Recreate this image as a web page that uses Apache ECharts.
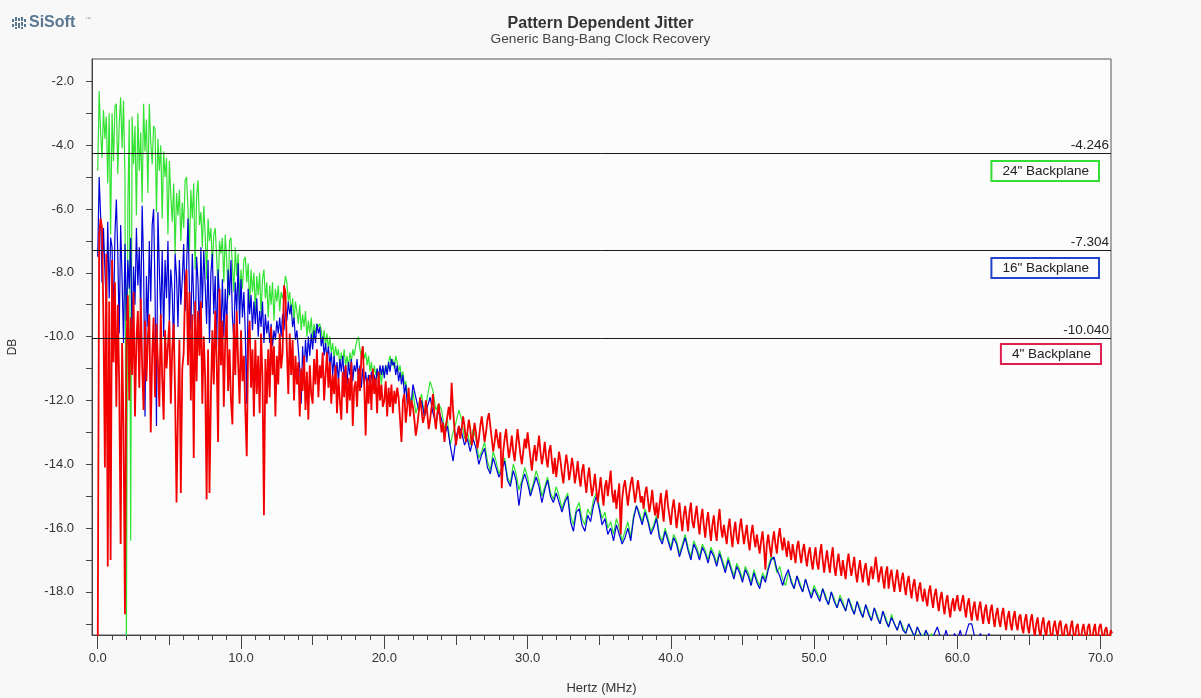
<!DOCTYPE html>
<html>
<head>
<meta charset="utf-8">
<title>Pattern Dependent Jitter</title>
<script src="https://cdn.jsdelivr.net/npm/echarts@6/dist/echarts.min.js"></script>
<style>
  html, body { margin: 0; padding: 0; background: #f8f8f8; }
  #chart { width: 1201px; height: 698px; }
</style>
</head>
<body>
<div id="chart"></div>
<script>
// ---- data ----
// early part: 0.0 .. 21.9 MHz every 0.1 MHz; late part starts at 22.0 MHz
const EARLY_STEP = 0.1;
const LATE_START = 22.0;
const GB_LATE_STEP = 0.2;   // green / blue late sampling
const RED_LATE_STEP = 0.1;  // red late sampling

const green24Early = [
  -4.8, -2.3, -3.6, -4.4, -2.9, -3.8, -3.1, -5.2, -3.0, -6.8,
  -3.0, -4.5, -2.8, -2.7, -4.9, -3.3, -2.5, -4.1, -2.6, -5.0,
  -19.8, -6.0, -3.2, -16.4, -3.1, -4.6, -3.4, -6.2, -3.0, -4.8,
  -3.6, -5.8, -2.7, -4.2, -3.2, -5.5, -2.7, -3.9, -4.6, -3.4,
  -3.5, -6.1, -3.8, -4.8, -4.0, -6.3, -4.2, -5.0, -4.4, -6.8,
  -4.5, -5.6, -6.4, -5.2, -7.4, -5.5, -6.2, -5.4, -7.0, -5.8,
  -6.6, -5.1, -5.0, -6.0, -7.3, -5.4, -6.3, -5.2, -7.9, -5.6,
  -5.1, -6.5, -6.1, -7.2, -5.9, -6.8, -8.2, -6.3, -7.0, -6.6,
  -7.8, -6.8, -6.6, -7.5, -8.6, -7.0, -7.4, -6.9, -8.3, -6.8,
  -7.6, -8.8, -7.0, -6.9, -7.8, -8.6, -7.2, -8.1, -7.4, -8.9,
  -7.9, -8.5, -7.6, -7.5, -8.3, -7.7, -9.1, -7.9, -8.6, -8.0,
  -9.2, -8.1, -8.7, -8.0, -9.3, -8.2, -7.9, -8.8, -8.3, -9.4,
  -8.4, -9.0, -8.3, -9.5, -8.5, -8.9, -8.4, -9.2, -8.6, -8.8,
  -8.5, -8.1, -8.3, -8.9, -8.6, -9.3, -8.8, -9.5, -8.9, -9.2,
  -9.6, -9.0, -9.8, -9.3, -9.7, -9.2, -10.0, -9.5, -9.9, -9.4,
  -10.1, -9.6, -9.9, -9.6, -9.7, -9.6, -9.8, -10.2, -9.8, -10.3,
  -9.9, -10.4, -10.0, -10.5, -10.2, -10.7, -10.3, -10.6, -10.4, -10.9,
  -10.5, -10.8, -10.4, -10.9, -10.6, -11.0, -10.5, -10.8, -10.4, -10.6,
  -10.3, -10.1, -10.0, -10.4, -10.6, -10.3, -10.7, -10.5, -10.9, -10.6,
  -11.1, -10.8, -11.3, -10.9, -11.2, -11.0, -11.4, -11.1, -11.5, -11.0,
  -11.2, -10.9, -11.1, -10.8, -10.6, -10.9, -10.7, -11.0, -10.6, -10.8,
  -11.1, -10.9, -11.3, -11.1, -11.5, -11.4, -11.8, -12.0, -11.9, -12.2
];
const green24Late = [
  -11.7, -12.4, -12.1, -11.8, -12.5, -11.9, -11.4, -11.7, -12.3, -12.1,
  -12.3, -12.9, -12.6, -13.4, -13.0, -12.7, -12.3, -12.6, -13.2, -13.0,
  -13.4, -12.9, -13.2, -13.8, -13.6, -13.3, -13.9, -14.2, -13.6, -13.9,
  -14.3, -14.1, -13.8, -14.4, -14.6, -14.0, -14.3, -14.8, -14.5, -14.1,
  -14.4, -14.9, -14.6, -14.2, -14.5, -15.0, -14.7, -14.4, -14.9, -15.1,
  -14.7, -15.0, -15.4, -15.1, -14.9, -15.6, -15.9, -15.4, -15.2, -15.7,
  -15.9, -15.4, -15.6, -15.1, -14.9, -15.3, -15.7, -15.5, -16.0, -15.8,
  -16.2, -15.7, -16.0, -16.4, -16.1, -15.8, -16.3, -15.6, -15.3, -15.5,
  -15.8, -15.4, -15.7, -16.1, -15.9, -15.6, -16.2, -16.4, -16.0, -16.3,
  -16.6, -16.2, -16.4, -16.8, -16.5, -16.2, -16.6, -16.9, -16.4, -16.6,
  -16.9, -16.5, -16.7, -17.0, -16.6, -16.8, -17.1, -16.7, -17.0, -17.3,
  -16.9, -17.2, -17.5, -17.1, -17.3, -17.6, -17.2, -17.4, -17.7, -17.3,
  -17.6, -17.8, -17.4, -17.6, -17.2, -16.9, -17.0, -17.4, -17.2, -17.6,
  -17.8, -17.4, -17.6, -17.9, -17.5, -17.7, -18.0, -17.6, -17.9, -18.1,
  -17.8, -18.0, -18.2, -17.9, -18.1, -18.4, -18.0, -18.2, -18.5, -18.1,
  -18.3, -18.6, -18.2, -18.4, -18.7, -18.3, -18.5, -18.8, -18.4, -18.6,
  -18.9, -18.5, -18.7, -19.0, -18.6, -18.8, -19.1, -18.7, -19.0, -19.2,
  -18.9, -19.1, -19.3, -19.0, -19.2, -19.5, -19.1, -19.3, -19.4, -19.2,
  -19.5, -19.3, -19.6, -19.8, -20.0, -20.2
];

const blue16Early = [
  -7.5, -5.0, -6.2, -8.3, -6.6, -7.9, -9.1, -6.4, -8.8, -6.9,
  -7.2, -9.6, -6.8, -5.7, -7.4, -9.9, -6.5, -8.2, -10.2, -7.1,
  -9.5, -7.6, -8.5, -6.9, -10.1, -7.8, -9.0, -6.6, -8.4, -7.2,
  -9.3, -5.9, -7.7, -12.5, -8.1, -9.7, -7.0, -8.9, -6.5, -6.0,
  -8.6, -12.8, -6.1, -7.9, -9.4, -7.3, -10.0, -7.6, -8.8, -7.0,
  -9.5, -7.9, -8.6, -10.4, -7.4, -8.1, -9.7, -7.6, -9.0, -8.2,
  -7.1, -9.2, -7.8, -6.3, -8.5, -9.8, -7.4, -8.9, -10.1, -7.5,
  -8.3, -10.0, -7.2, -9.1, -7.3, -8.4, -9.6, -7.6, -10.2, -8.0,
  -7.4, -9.3, -8.1, -10.3, -7.9, -8.8, -9.9, -8.2, -10.0, -8.5,
  -9.7, -7.9, -8.7, -7.6, -9.4, -10.1, -8.3, -9.2, -7.7, -9.6,
  -8.2, -9.4, -8.6, -9.9, -12.1, -8.5, -9.3, -8.7, -9.8, -8.9,
  -9.6, -8.8, -10.0, -9.2, -9.7, -8.9, -10.2, -9.3, -9.9, -9.5,
  -10.2, -9.6, -10.3, -9.8, -10.1, -9.5, -9.9, -9.4, -10.0, -9.3,
  -9.8, -9.1, -9.5, -8.9, -9.3, -9.0, -9.7, -9.4, -10.1, -9.8,
  -10.4, -11.0, -12.1, -10.3, -11.2, -10.1, -10.8, -10.0, -10.6, -9.9,
  -10.4, -9.8, -10.2, -9.6, -9.9, -9.7, -10.3, -10.0, -10.6, -10.2,
  -10.7, -10.3, -10.9, -10.5, -11.2, -10.6, -11.3, -10.8, -11.4, -10.7,
  -11.1, -10.6, -11.3, -10.9, -11.5, -10.8, -11.2, -10.7, -11.4, -10.9,
  -11.1, -10.7, -11.4, -10.9, -11.6, -11.0, -11.5, -11.1, -11.6, -11.2,
  -11.5, -11.1, -11.6, -11.2, -11.5, -11.0, -11.3, -10.9, -11.2, -10.9,
  -11.3, -10.9, -11.2, -10.8, -11.1, -10.7, -10.9, -10.8, -11.2, -10.9,
  -11.4, -11.1, -11.5, -11.2, -11.8, -11.5, -12.1, -11.9, -12.3, -12.0
];
const blue16Late = [
  -11.5, -11.9, -12.3, -12.0, -12.5, -12.2, -11.9, -12.4, -12.7, -12.3,
  -12.6, -13.1, -12.8, -13.4, -13.9, -13.2, -12.8, -13.0, -13.4, -13.2,
  -13.6, -13.2, -13.5, -14.0, -13.7, -13.5, -14.1, -14.3, -13.8, -14.1,
  -14.4, -14.2, -13.9, -14.5, -14.7, -14.2, -14.5, -15.3, -14.6, -14.3,
  -14.6, -15.0, -14.7, -14.4, -14.7, -15.2, -14.8, -14.5, -15.0, -15.2,
  -14.9, -15.2, -15.5, -15.2, -15.0, -15.8, -16.1, -15.5, -15.4, -15.9,
  -16.1, -15.6, -15.8, -15.3, -15.0, -15.4, -15.9, -15.7, -16.2, -16.0,
  -16.4, -15.9, -16.2, -16.5, -16.3, -16.0, -16.4, -15.7, -15.3, -15.6,
  -15.9, -15.5, -15.8, -16.2, -16.0, -15.7, -16.3, -16.5, -16.1, -16.4,
  -16.7, -16.3, -16.5, -16.9, -16.6, -16.3, -16.7, -17.0, -16.5, -16.7,
  -17.0, -16.6, -16.8, -17.1, -16.7, -16.9, -17.2, -16.8, -17.1, -17.4,
  -17.0, -17.3, -17.6, -17.2, -17.4, -17.7, -17.3, -17.5, -17.8, -17.4,
  -17.7, -17.9, -17.5, -17.7, -17.3, -17.0, -16.9, -17.3, -17.5, -17.8,
  -17.5, -17.3, -17.7, -17.9, -17.5, -17.8, -18.0, -17.6, -17.9, -18.2,
  -17.9, -18.1, -18.3, -17.9, -18.2, -18.4, -18.0, -18.3, -18.5, -18.2,
  -18.4, -18.6, -18.2, -18.5, -18.7, -18.3, -18.6, -18.8, -18.4, -18.7,
  -18.9, -18.5, -18.8, -19.0, -18.6, -18.9, -19.1, -18.8, -19.0, -19.2,
  -18.9, -19.2, -19.3, -19.0, -19.2, -19.4, -19.1, -19.3, -19.5, -19.2,
  -19.4, -19.6, -19.3, -19.1, -19.4, -19.6, -19.2, -19.5, -19.7, -19.3,
  -19.5, -19.2, -19.6, -19.3, -19.0, -19.0, -19.4, -19.6, -19.3, -19.5,
  -19.6, -19.3, -19.7, -19.9
];

const red4Early = [
  -19.8, -6.8, -6.3, -6.6, -9.5, -14.1, -7.4, -17.2, -8.9, -17.0,
  -7.6, -10.8, -8.3, -12.2, -9.0, -11.5, -16.5, -10.2, -12.8, -18.7,
  -10.4, -8.7, -12.0, -9.4, -11.2, -8.6, -12.5, -10.1, -9.2, -11.6,
  -8.8, -10.9, -12.3, -9.5, -11.4, -10.0, -9.3, -13.0, -10.6, -9.4,
  -11.9, -9.6, -10.8, -12.2, -9.3, -11.3, -12.6, -9.8, -11.0, -10.3,
  -9.5, -12.1, -10.4, -9.6, -11.8, -15.2, -12.3, -10.1, -14.9, -11.0,
  -10.5, -8.4, -7.9, -10.9, -8.6, -12.0, -9.3, -13.8, -8.9, -11.4,
  -9.2, -10.6, -8.9, -12.1, -10.0, -11.3, -15.1, -10.4, -14.9, -11.8,
  -9.8, -11.5, -9.2, -10.7, -13.3, -8.5, -10.9, -9.5, -12.2, -10.1,
  -9.3, -11.7, -10.4, -12.0, -12.75, -9.6, -11.2, -9.2, -10.8, -12.1,
  -9.8, -11.4, -10.6, -12.3, -13.75, -10.2, -9.5, -11.6, -10.4, -12.5,
  -10.1, -11.8, -10.6, -12.4, -9.9, -11.3, -15.6, -10.7, -12.1, -10.4,
  -11.9, -9.7, -11.2, -10.3, -12.5, -10.6, -11.5, -9.9, -11.0, -10.5,
  -8.4, -8.6, -10.4, -11.8, -9.9, -11.2, -10.1, -12.0, -10.6, -11.5,
  -10.8, -12.5, -11.0, -11.7, -10.6, -12.3, -11.1, -12.6, -10.9, -11.8,
  -12.1, -10.7, -11.5, -10.4, -11.9, -10.9, -11.3, -10.5, -12.0, -11.2,
  -10.5, -11.6, -10.8, -12.1, -11.2, -11.8, -10.9, -12.4, -11.3, -12.0,
  -12.6, -11.1, -11.9, -10.9, -12.4, -11.3, -12.0, -10.8, -12.8, -11.6,
  -11.4, -12.2, -11.0, -11.7, -10.6, -10.3, -11.5, -13.1, -11.3, -12.1,
  -11.2, -12.3, -11.0, -11.8, -11.3, -12.4, -11.1, -12.0, -11.5, -12.2,
  -12.0, -11.4, -12.5, -11.6, -12.2, -11.5, -12.4, -11.7, -12.1, -11.6,
  -11.9, -12.6, -13.3, -12.0, -11.8, -12.7, -12.2, -11.6, -12.5, -12.0
];
const red4Late = [
  -12.2, -12.6, -13.1, -12.8, -12.4, -11.9, -12.3, -12.7, -12.5, -12.0,
  -12.4, -12.9, -12.6, -12.2, -11.8, -12.5, -12.9, -12.4, -12.1, -12.6,
  -13.0, -12.7, -13.3, -12.8, -12.5, -12.2, -12.6, -11.45, -12.3, -12.9,
  -13.4, -13.1, -12.8, -13.2, -12.9, -12.5, -12.8, -13.3, -13.0, -12.6,
  -12.9, -13.4, -13.1, -12.7, -13.0, -13.5, -13.2, -12.8, -12.5, -12.9,
  -13.3, -13.0, -12.6, -12.4, -12.8, -13.2, -13.6, -13.3, -12.9, -13.2,
  -13.5, -13.0, -14.75, -13.6, -13.2, -12.9, -13.4, -13.8, -13.5, -13.1,
  -13.6, -13.9, -13.4, -12.9, -13.3, -13.7, -14.0, -13.6, -13.2, -13.5,
  -13.0, -13.4, -13.8, -14.2, -13.7, -13.4, -13.9, -13.5, -13.1, -13.6,
  -14.0, -13.7, -13.3, -13.8, -14.1, -13.6, -13.4, -13.9, -14.3, -13.8,
  -14.4, -14.0, -13.6, -13.9, -14.3, -14.6, -14.1, -13.7, -14.0, -14.5,
  -14.2, -13.8, -14.1, -14.6, -14.3, -13.9, -14.4, -14.7, -14.2, -14.0,
  -14.5, -14.9, -14.4, -14.1, -14.6, -15.0, -14.7, -14.3, -14.8, -15.2,
  -14.8, -14.4, -14.9, -15.3, -14.7, -14.5, -15.0, -14.6, -14.2, -14.9,
  -15.2, -14.8, -15.4, -15.0, -14.6, -16.2, -15.1, -14.7, -14.5, -14.9,
  -15.3, -14.9, -14.6, -14.4, -14.8, -15.2, -14.9, -14.5, -14.8, -15.2,
  -15.0, -15.4, -14.9, -14.7, -15.1, -15.5, -15.2, -14.8, -15.3, -15.6,
  -15.2, -15.7, -15.3, -14.9, -15.4, -15.8, -15.1, -14.8, -15.3, -15.6,
  -15.9, -15.4, -15.1, -15.5, -16.0, -15.6, -15.2, -15.7, -16.1, -15.6,
  -15.3, -15.7, -16.1, -15.5, -15.2, -15.8, -16.0, -15.6, -15.3, -15.8,
  -16.2, -15.7, -15.4, -15.9, -16.3, -15.8, -15.5, -16.0, -16.4, -15.9,
  -15.6, -16.1, -16.4, -15.8, -15.4, -16.0, -16.3, -15.9, -16.2, -16.5,
  -16.0, -15.7, -16.2, -16.6, -16.1, -15.8, -16.3, -16.5, -16.0, -15.7,
  -16.1, -16.5, -16.2, -15.9, -16.4, -16.7, -16.2, -15.9, -16.3, -16.6,
  -16.2, -16.5, -16.8, -16.4, -16.1, -16.6, -17.3, -16.5, -16.2, -16.6,
  -16.9, -16.4, -16.1, -16.5, -16.8, -16.3, -16.0, -16.4, -16.7, -16.3,
  -16.6, -16.9, -16.4, -16.7, -17.0, -16.5, -16.8, -17.1, -16.6, -16.4,
  -16.8, -17.1, -16.7, -16.5, -16.9, -17.2, -16.8, -16.6, -17.0, -17.3,
  -16.9, -16.6, -17.1, -17.3, -16.8, -16.5, -17.0, -17.4, -17.0, -16.7,
  -17.1, -17.4, -16.9, -16.6, -17.2, -17.5, -17.1, -16.8, -17.2, -17.5,
  -17.0, -17.3, -17.6, -17.1, -16.8, -17.2, -17.5, -17.2, -16.9, -17.4,
  -17.7, -17.3, -17.0, -17.4, -17.7, -17.3, -17.1, -17.5, -17.8, -17.4,
  -17.2, -17.6, -17.3, -16.9, -17.3, -17.7, -17.4, -17.2, -17.6, -17.9,
  -17.4, -17.2, -17.9, -17.5, -17.3, -17.7, -18.0, -17.6, -17.3, -17.7,
  -18.0, -17.6, -17.4, -17.8, -18.1, -17.7, -17.5, -17.9, -18.2, -17.8,
  -17.6, -18.0, -18.3, -17.9, -17.7, -18.1, -18.3, -17.9, -18.2, -18.45,
  -18.0, -17.8, -18.2, -18.5, -18.1, -17.9, -18.3, -18.6, -18.2, -18.0,
  -18.4, -18.7, -18.3, -18.1, -18.5, -18.8, -18.4, -18.2, -18.6, -18.3,
  -18.1, -18.5, -18.6, -18.3, -18.1, -18.5, -18.8, -18.4, -18.2, -18.6,
  -18.9, -18.5, -18.3, -18.7, -18.9, -18.5, -18.3, -18.7, -19.0, -18.6,
  -18.4, -18.8, -19.0, -18.6, -18.4, -18.8, -19.1, -18.7, -18.5, -18.9,
  -19.1, -18.7, -18.5, -18.9, -19.2, -18.8, -18.6, -19.0, -19.2, -18.8,
  -18.6, -19.0, -19.2, -18.8, -18.7, -19.1, -19.3, -18.9, -18.7, -19.1,
  -19.3, -18.9, -18.7, -19.1, -19.4, -19.0, -18.8, -19.2, -19.4, -19.0,
  -18.8, -19.2, -19.4, -19.0, -18.9, -19.3, -19.5, -19.1, -18.9, -19.2,
  -19.4, -19.0, -18.9, -19.3, -19.5, -19.1, -19.0, -19.3, -19.5, -19.1,
  -18.9, -19.3, -19.5, -19.1, -19.0, -19.4, -19.6, -19.2, -19.0, -19.3,
  -19.5, -19.1, -19.0, -19.4, -19.6, -19.2, -19.0, -19.4, -19.5, -19.1,
  -19.0, -19.3, -19.5, -19.2, -19.1, -19.4, -19.5, -19.2, -19.3
];

// horizontal reference levels (dB)
const levels = [-4.246, -7.304, -10.040];

// axis ticks / labels
const yTickValues = [-19, -18, -17, -16, -15, -14, -13, -12, -11, -10, -9, -8, -7, -6, -5, -4, -3, -2];
const yLabelValues = [-18, -16, -14, -12, -10, -8, -6, -4, -2];
const xMajorValues = [0, 10, 20, 30, 40, 50, 60, 70];
const xMidValues = [5, 15, 25, 35, 45, 55, 65];
const xMinorValues = [0,1,2,3,4,5,6,7,8,9,10,11,12,13,14,15,16,17,18,19,20,21,22,23,24,25,26,27,28,29,30,
  31,32,33,34,35,36,37,38,39,40,41,42,43,44,45,46,47,48,49,50,51,52,53,54,55,56,57,58,59,60,61,62,63,64,65,66,67,68,69,70];

const seriesNames = ['24" Backplane', '16" Backplane', '4" Backplane'];
const seriesColors = ['#33e333', '#0000d8', '#f20000'];
const boxColors = ['#33dd33', '#2244cc', '#dd2050'];

// ---- chart ----
const FONT = '"Liberation Sans", Arial, sans-serif';
const toPairs = (early, late, lateStep) =>
  early.map((v, i) => [+(i * EARLY_STEP).toFixed(1), v])
    .concat(late.map((v, i) => [+(LATE_START + i * lateStep).toFixed(1), v]));

const X_MIN = -0.4, X_MAX = 70.72, Y_MIN = -19.35, Y_MAX = -1.3;

function xAxisBase(extra) {
  return Object.assign({
    type: 'value', min: X_MIN, max: X_MAX, position: 'bottom', gridIndex: 0,
    splitLine: { show: false },
    axisLine: { show: false },
    axisLabel: { show: false },
    axisTick: { show: false }
  }, extra);
}

const chart = echarts.init(document.getElementById('chart'), null, { renderer: 'canvas' });

chart.setOption({
  animation: false,
  backgroundColor: '#f8f8f8',
  textStyle: { fontFamily: FONT },
  title: [
    { text: 'Pattern Dependent Jitter', left: 'center', top: 16, padding: 0,
      textStyle: { fontFamily: FONT, fontSize: 16, fontWeight: 'bold', color: '#333' } },
    { text: 'Generic Bang-Bang Clock Recovery', left: 'center', top: 32, padding: 0,
      textStyle: { fontFamily: FONT, fontSize: 13.7, fontWeight: 'normal', color: '#444' } }
  ],
  graphic: [
    { type: 'group', left: 12, top: 17, children: [
      { type: 'rect', shape: { x: 0, y: 2, width: 2, height: 3 }, style: { fill: '#5a7892' } },
      { type: 'rect', shape: { x: 0, y: 7, width: 2, height: 3 }, style: { fill: '#5a7892' } },
      { type: 'rect', shape: { x: 3, y: 0, width: 2, height: 4 }, style: { fill: '#5a7892' } },
      { type: 'rect', shape: { x: 3, y: 5, width: 2, height: 4 }, style: { fill: '#5a7892' } },
      { type: 'rect', shape: { x: 3, y: 10, width: 2, height: 2 }, style: { fill: '#5a7892' } },
      { type: 'rect', shape: { x: 6, y: 1, width: 2, height: 3 }, style: { fill: '#5a7892' } },
      { type: 'rect', shape: { x: 6, y: 6, width: 2, height: 5 }, style: { fill: '#5a7892' } },
      { type: 'rect', shape: { x: 9, y: 0, width: 2, height: 4 }, style: { fill: '#5a7892' } },
      { type: 'rect', shape: { x: 9, y: 5, width: 2, height: 4 }, style: { fill: '#5a7892' } },
      { type: 'rect', shape: { x: 9, y: 10, width: 2, height: 2 }, style: { fill: '#5a7892' } },
      { type: 'rect', shape: { x: 12, y: 2, width: 2, height: 3 }, style: { fill: '#5a7892' } },
      { type: 'rect', shape: { x: 12, y: 7, width: 2, height: 3 }, style: { fill: '#5a7892' } }
    ]},
    { type: 'text', left: 29, top: 15,
      style: { text: 'SiSoft', fontFamily: FONT, fontSize: 16, fontWeight: 'bold', fill: '#5a7892' } },
    { type: 'text', left: 85, top: 16,
      style: { text: '\u2122', fontFamily: FONT, fontSize: 6, fill: '#9aaaba' } }
  ],
  legend: seriesNames.map((name, i) => ({
    data: [name],
    orient: 'horizontal',
    right: [102, 102, 100][i],
    top: [161, 258, 344][i],
    icon: 'none',
    itemWidth: 0,
    itemHeight: 0,
    selectedMode: false,
    borderColor: boxColors[i],
    borderWidth: 2,
    borderRadius: 0,
    padding: [3, 10, 3, 6],
    textStyle: { fontFamily: FONT, fontSize: 13.5, color: '#222' }
  })),
  grid: {
    left: 92, right: 90, top: 59, bottom: 63,
    outerBoundsMode: 'none', containLabel: false,
    show: true, backgroundColor: '#fcfcfc', borderColor: '#555', borderWidth: 1
  },
  xAxis: [
    xAxisBase({
      name: 'Hertz (MHz)', nameLocation: 'middle', nameGap: 47,
      nameTextStyle: { fontFamily: FONT, fontSize: 13, color: '#333' },
      axisLine: { show: true, onZero: false, lineStyle: { color: '#444', width: 1 } },
      axisTick: { show: true, customValues: xMajorValues, length: 14, lineStyle: { color: '#444' } },
      axisLabel: { show: true, customValues: xMajorValues, margin: 17, fontFamily: FONT, fontSize: 13, color: '#333',
        formatter: v => v.toFixed(1) }
    }),
    xAxisBase({ axisTick: { show: true, customValues: xMidValues, length: 10, lineStyle: { color: '#444' } } }),
    xAxisBase({ axisTick: { show: true, customValues: xMinorValues, length: 5, lineStyle: { color: '#444' } } })
  ],
  yAxis: {
    type: 'value', min: Y_MIN, max: Y_MAX,
    name: 'DB', nameLocation: 'middle', nameGap: 73, nameRotate: 90,
    nameTextStyle: { fontFamily: FONT, fontSize: 12, color: '#333' },
    splitLine: { show: false },
    axisLine: { show: true, onZero: false, lineStyle: { color: '#444', width: 1 } },
    axisTick: { show: true, customValues: yTickValues, length: 6, lineStyle: { color: '#444' } },
    axisLabel: { customValues: yLabelValues, margin: 18, fontFamily: FONT, fontSize: 13, color: '#333',
      formatter: v => v.toFixed(1) }
  },
  series: [
    { name: seriesNames[0], type: 'line', data: toPairs(green24Early, green24Late, GB_LATE_STEP),
      showSymbol: false, symbol: 'none', clip: true,
      lineStyle: { color: seriesColors[0], width: 1.2 }, itemStyle: { color: seriesColors[0] } },
    { name: seriesNames[1], type: 'line', data: toPairs(blue16Early, blue16Late, GB_LATE_STEP),
      showSymbol: false, symbol: 'none', clip: true,
      lineStyle: { color: seriesColors[1], width: 1.2 }, itemStyle: { color: seriesColors[1] } },
    { name: seriesNames[2], type: 'line', step: 'end', data: toPairs(red4Early, red4Late, RED_LATE_STEP),
      showSymbol: false, symbol: 'none', clip: true,
      lineStyle: { color: seriesColors[2], width: 1.8 }, itemStyle: { color: seriesColors[2] } },
    { name: 'levels', type: 'line', data: [], silent: true,
      markLine: {
        silent: true, symbol: ['none', 'none'], animation: false, precision: 3,
        lineStyle: { color: '#1a1a1a', width: 1, type: 'solid' },
        label: { position: 'insideEndTop', distance: [2, 1], fontFamily: FONT, fontSize: 13.5, color: '#222',
          formatter: p => Number(p.value).toFixed(3) },
        emphasis: { disabled: true },
        data: levels.map(v => ({ yAxis: v }))
      }
    }
  ]
});
</script>
</body>
</html>
